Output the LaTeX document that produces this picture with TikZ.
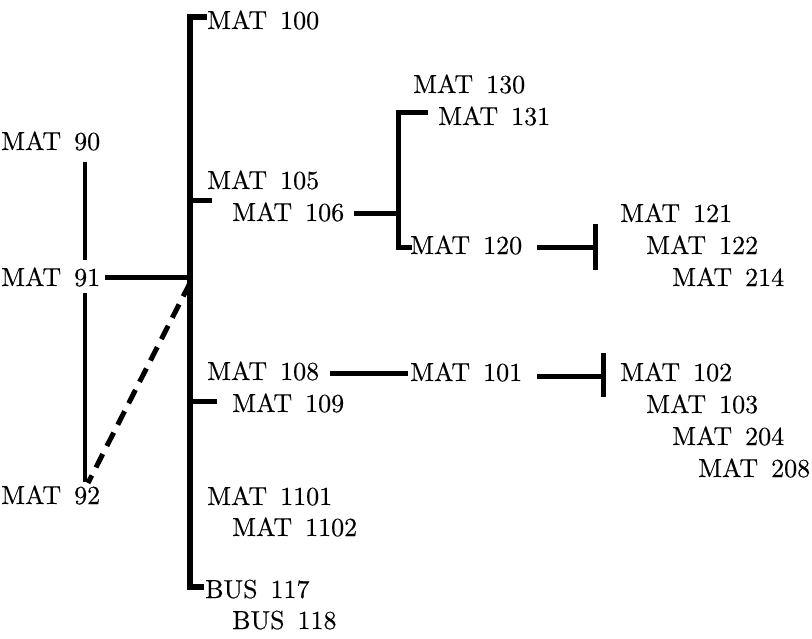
\documentclass[tikz,border=0pt]{standalone}
\usepackage{fontspec}
\newfontfamily\lblfam{lmroman10-regular.otf}[FakeBold=0.3]
\newcommand\lblfont{\lblfam\fontsize{26}{32}\selectfont\spaceskip=0.5em\relax}
\begin{document}
\begin{tikzpicture}[x=1pt,y=-1pt,
  lbl/.style={anchor=base west, inner sep=0pt, font=\lblfont},
  heavy/.style={line width=5pt, line join=miter},
  busline/.style={line width=6pt, line join=miter},
  leftline/.style={line width=4.5pt},
  dashline/.style={line width=5pt, dash pattern=on 15pt off 9pt}]
\useasboundingbox (0,0) rectangle (812,638);
% left column
\node[lbl] (m90) at (1,150) {MAT 90};
\node[lbl] (m91) at (1,286) {MAT 91};
\node[lbl] (m92) at (1,504) {MAT 92};
% level 1
\node[lbl] (m100) at (207,29) {MAT 100};
\node[lbl] (m105) at (207,189) {MAT 105};
\node[lbl] (m106) at (232,221) {MAT 106};
\node[lbl] (m108) at (207,380) {MAT 108};
\node[lbl] (m109) at (232,412) {MAT 109};
\node[lbl] (m1101) at (207,505) {MAT 1101};
\node[lbl] (m1102) at (232,536) {MAT 1102};
\node[lbl] (b117) at (205,598) {BUS 117};
\node[lbl] (b118) at (232,629) {BUS 118};
% level 2
\node[lbl] (m130) at (413,93) {MAT 130};
\node[lbl] (m131) at (438,125) {MAT 131};
\node[lbl] (m120) at (410,254) {MAT 120};
\node[lbl] (m101) at (410,381) {MAT 101};
% level 3
\node[lbl] (m121) at (620,222) {MAT 121};
\node[lbl] (m122) at (646,254) {MAT 122};
\node[lbl] (m214) at (672,286) {MAT 214};
\node[lbl] (m102) at (620,381) {MAT 102};
\node[lbl] (m103) at (646,413) {MAT 103};
\node[lbl] (m204) at (672,445) {MAT 204};
\node[lbl] (m208) at (698,477) {MAT 208};
% junction coordinates
\coordinate (bustop) at (190,17);
\coordinate (bustopend) at (207,17);
\coordinate (busbot) at (190,587);
\coordinate (busbotend) at (204,587);
\coordinate (bus105) at (190,200);
\coordinate (t105) at (212,200);
\coordinate (bus109) at (190,401);
\coordinate (t109) at (217,401);
\coordinate (bus91) at (190,277);
\coordinate (s91) at (105,277);
\coordinate (bus92) at (190,283);
\coordinate (d92) at (88,483);
\coordinate (v90) at (85,162);
\coordinate (v91a) at (85,260);
\coordinate (v91b) at (85,293);
\coordinate (v92) at (85,482);
\coordinate (s106) at (354,213);
\coordinate (br106) at (398,213);
\coordinate (brtop) at (398,112);
\coordinate (brtopend) at (428,112);
\coordinate (brbot) at (398,247);
\coordinate (brbotend) at (412,247);
\coordinate (s120) at (537,247);
\coordinate (bar120) at (595,247);
\coordinate (bar120a) at (595,224);
\coordinate (bar120b) at (595,270);
\coordinate (s108) at (330,373);
\coordinate (e108) at (408,373);
\coordinate (s101) at (537,376);
\coordinate (bar101) at (603,376);
\coordinate (bar101a) at (603,353);
\coordinate (bar101b) at (603,397);
% connectors
\draw[busline] (bustopend) -- (bustop) -- (busbot) -- (busbotend);
\draw[heavy] (bus105) -- (t105);
\draw[heavy] (bus109) -- (t109);
\draw[heavy] (s91) -- (bus91);
\draw[dashline] (bus92) -- (d92);
\draw[leftline] (v90) -- (v91a);
\draw[leftline] (v91b) -- (v92);
\draw[heavy] (s106) -- (br106);
\draw[heavy] (brtopend) -- (brtop) -- (brbot) -- (brbotend);
\draw[heavy] (s120) -- (bar120);
\draw[heavy] (bar120a) -- (bar120b);
\draw[heavy] (s108) -- (e108);
\draw[heavy] (s101) -- (bar101);
\draw[heavy] (bar101a) -- (bar101b);
\end{tikzpicture}
\end{document}
